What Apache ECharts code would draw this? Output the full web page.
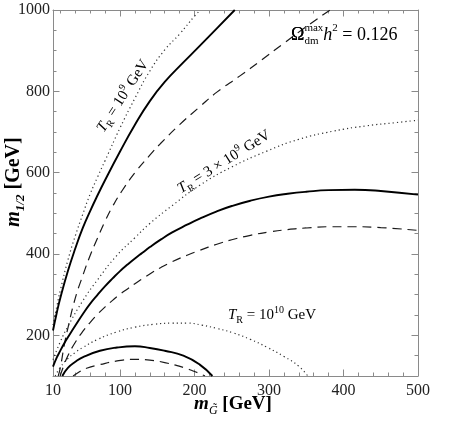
<!DOCTYPE html>
<html><head><meta charset="utf-8">
<script src="https://cdn.jsdelivr.net/npm/echarts@6/dist/echarts.min.js"></script>
<style>html,body{margin:0;padding:0;background:#fff}#c{width:450px;height:422px}</style>
</head><body><div id="c"></div>
<script>
// ---- tick labels ----
const xLabelValues = [10, 100, 200, 300, 400, 500];
const yLabelValues = [200, 400, 600, 800, 1000];
const xRange = [10, 500];
const yRange = [100, 1000];

// ---- curves: [m_gravitino (GeV), m_1/2 (GeV)] ----
// T_R = 10^9 GeV
const dotted_1e9 = [[10,225],[15,270],[20,312],[30,385],[40,445],[50,498],[60,548],[70,590],[80,630],[100,710],[120,783],[140,850],[160,902],[180,941],[200,985],[208,1000]];
const solid_1e9  = [[10,212],[15,255],[20,293],[30,358],[40,414],[50,464],[60,506],[70,545],[80,582],[100,652],[120,718],[140,776],[160,823],[185,871],[205,908],[230,955],[254,1000]];
const dashed_1e9 = [[17,100],[20,122],[25,175],[30,218],[40,292],[50,347],[60,397],[70,440],[80,481],[90,517],[102.5,555],[120,600],[140,643],[154,671],[180,718],[207,762],[230,798],[261,838],[290,877],[319,917],[350,959],[382,1000]];
// T_R = 3 x 10^9 GeV
const dotted_3e9 = [[10,140],[20,185],[30,222],[50,285],[70,337],[95,395],[120,440],[140,475],[170,519],[207,569],[250,614],[297,653],[340,682],[386,702],[430,715],[470,723],[500,729]];
const solid_3e9  = [[10,123],[15,145],[20,163],[25,180],[30,195],[40,224],[51,255],[60,278],[70,300],[80,321],[90,340],[100,358],[110,374],[120,389],[130,403],[140,417],[155,436],[170,453],[190,472],[207,487],[230,505],[250,518],[275,531],[300,541],[325,548],[350,553],[380,557],[415,558],[450,555],[500,546]];
const dashed_3e9 = [[19.5,100],[25,128],[30,150],[40,183],[51,212],[60,232],[70,252],[80,270],[90,286],[100,301],[110,314],[120,327],[130,339],[140,351],[155,367],[170,381],[190,397],[207,409],[230,424],[250,435],[275,446],[300,454],[325,460],[350,464],[380,467],[415,467],[450,465],[500,458]];
// T_R = 10^10 GeV
const dotted_1e10 = [[13,100],[20,122],[30,143],[40,158],[50,170],[70,190],[95,208],[120,220],[145,227],[170,230],[190,230],[210,225],[230,217],[252,206],[275,190],[297,171],[320,148],[340,124],[352,100]];
const solid_1e10  = [[22.5,100],[30,120],[40,135],[51,147],[73,162],[96,170],[120,173],[140,169],[160,162],[185,150],[207,128],[224,100]];
const dashed_1e10 = [[37,100],[45,110],[55,119],[73,128],[96,137],[120,141],[140,139],[160,133],[185,121],[200,111],[214,100]];

// ---- ticks (inside frame, Mathematica style) ----
const xMajor = [], xMinor = [], yMajor = [], yMinor = [];
for (let v = 20; v < 500; v += 20) (v % 100 === 0 ? xMajor : xMinor).push(v);
for (let v = 150; v < 1000; v += 50) (v % 200 === 0 ? yMajor : yMinor).push(v);

const serif = '"Liberation Serif", "DejaVu Serif", serif';
const frame = '#8a8a8a';
const ink = '#222';

function xAx(pos, ticks, len, labels, line) {
  return {
    type: 'value', position: pos, min: xRange[0], max: xRange[1],
    axisLine: { show: line, onZero: false, lineStyle: { color: frame, width: 1 } },
    axisTick: { show: true, inside: true, length: len, customValues: ticks, lineStyle: { color: frame, width: 1 } },
    axisLabel: labels ? { show: true, customValues: xLabelValues, formatter: v => String(v), margin: 7, color: ink, fontFamily: serif, fontSize: 16 } : { show: false },
    splitLine: { show: false }
  };
}
function yAx(pos, ticks, len, labels, line) {
  return {
    type: 'value', position: pos, min: yRange[0], max: yRange[1],
    axisLine: { show: line, onZero: false, lineStyle: { color: frame, width: 1 } },
    axisTick: { show: true, inside: true, length: len, customValues: ticks, lineStyle: { color: frame, width: 1 } },
    axisLabel: labels ? { show: true, customValues: yLabelValues, formatter: v => String(v), margin: 3, color: ink, fontFamily: serif, fontSize: 16 } : { show: false },
    splitLine: { show: false }
  };
}

const solidStyle  = { color: '#000', width: 1.9 };
const dashedStyle = { color: '#1a1a1a', width: 1.2, type: [9, 6] };
const dottedStyle = { color: '#333', width: 1.2, type: [1.2, 3] };
function curve(data, style) {
  return { type: 'line', data: data, xAxisIndex: 0, yAxisIndex: 0, symbol: 'none', showSymbol: false,
           smooth: 0.5, lineStyle: style, silent: true, animation: false, z: 3 };
}

function mkRich(size, supSize) {
  const base = { fontFamily: serif, fontSize: size, lineHeight: Math.round(size * 1.35), color: '#333' };
  return {
    b:   base,
    it:  Object.assign({}, base, { fontStyle: 'italic' }),
    hid: Object.assign({}, base, { color: 'rgba(0,0,0,0)' }),
    sup: { fontFamily: serif, fontSize: supSize, lineHeight: supSize, verticalAlign: 'top', color: '#333' },
    sub: { fontFamily: serif, fontSize: supSize, lineHeight: supSize, verticalAlign: 'bottom', color: '#333' }
  };
}
const richAnn = mkRich(15, 10);
const richOmega = mkRich(18, 11);
function mkTitle(size) {
  const s = Math.round(size * 0.65);
  return {
    mi: { fontFamily: serif, fontSize: size, lineHeight: Math.round(size * 1.3), fontStyle: 'italic', fontWeight: 'bold', color: '#111' },
    b:  { fontFamily: serif, fontSize: size, lineHeight: Math.round(size * 1.3), fontWeight: 'bold', color: '#111' },
    sb: { fontFamily: serif, fontSize: s, lineHeight: s, fontStyle: 'italic', fontWeight: 'bold', verticalAlign: 'bottom', color: '#111' },
    si: { fontFamily: serif, fontSize: s, lineHeight: s, fontStyle: 'italic', verticalAlign: 'bottom', color: '#111' }
  };
}
function txt(x, y, rotDeg, text, rich, align) {
  return { type: 'text', x: x, y: y, rotation: rotDeg * Math.PI / 180, silent: true, z: 10,
           style: { text: text, rich: rich, align: align || 'center', verticalAlign: 'middle' } };
}

const option = {
  animation: false,
  backgroundColor: '#fff',
  grid: { left: 53, top: 10, right: 32, bottom: 46, containLabel: false },
  xAxis: [ xAx('bottom', xMinor, 3.5, true, true), xAx('bottom', xMajor, 6.5, false, false),
           xAx('top', xMinor, 3.5, false, true),   xAx('top', xMajor, 6.5, false, false) ],
  yAxis: [ yAx('left', yMinor, 3.5, true, true),  yAx('left', yMajor, 6.5, false, false),
           yAx('right', yMinor, 3.5, false, true), yAx('right', yMajor, 6.5, false, false) ],
  series: [
    curve(dotted_1e9, dottedStyle), curve(solid_1e9, solidStyle), curve(dashed_1e9, dashedStyle),
    curve(dotted_3e9, dottedStyle), curve(solid_3e9, solidStyle), curve(dashed_3e9, dashedStyle),
    curve(dotted_1e10, dottedStyle), curve(solid_1e10, solidStyle), curve(dashed_1e10, dashedStyle)
  ],
  graphic: [
    txt(123, 96, 57, '{it|T}{sub|R}{b| = 10}{sup|9}{b| GeV}', richAnn),
    txt(224, 162, 32, '{it|T}{sub|R}{b| = 3 × 10}{sup|9}{b| GeV}', richAnn),
    txt(272, 315, 0, '{it|T}{sub|R}{b| = 10}{sup|10}{b| GeV}', richAnn),
    txt(291, 35, 0, '{b|Ω}{sup|max}{it|h}{sup|2}{b| = 0.126}', richOmega, 'left'),
    txt(291, 35, 0, '{hid|Ω}{sub|dm}', richOmega, 'left'),
    txt(233, 404, 0, '{mi|m}{si|G\u0303}{b| [GeV]}', mkTitle(19)),
    txt(14, 182, 90, '{mi|m}{sb|1/2}{b| [GeV]}', mkTitle(20))
  ]
};
const chart = echarts.init(document.getElementById('c'), null, { renderer: 'canvas' });
chart.setOption(option);
</script></body></html>
